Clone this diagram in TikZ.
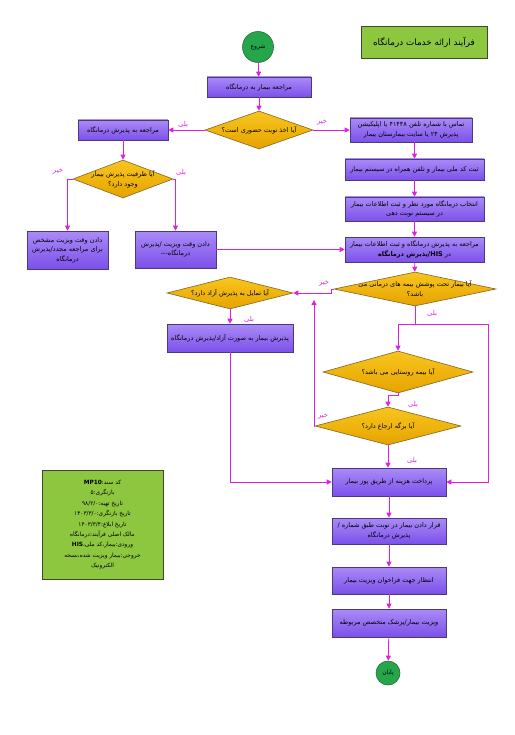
\documentclass[tikz,border=0pt]{standalone}
\usepackage{fontspec}
\usetikzlibrary{shapes.geometric,arrows.meta,calc}
\TeXXeTstate=1
\newfontfamily\fafont[Script=Arabic]{DejaVu Sans}
\newcommand{\fa}[1]{\beginR #1\endR}
\newcommand{\lt}[1]{\beginL #1\endL}
\definecolor{procA}{HTML}{A98BF7}
\definecolor{procB}{HTML}{7C50EA}
\definecolor{procline}{HTML}{4A3A78}
\definecolor{decA}{HTML}{F8C51E}
\definecolor{decB}{HTML}{E6A300}
\definecolor{decline}{HTML}{80652A}
\definecolor{termfill}{HTML}{25A64B}
\definecolor{termline}{HTML}{2E6A3A}
\definecolor{limefill}{HTML}{8DC63F}
\definecolor{limeline}{HTML}{3C4A2C}
\definecolor{mag}{HTML}{E31EE3}
\tikzset{
  proc/.style={rectangle, draw=procline, line width=0.6pt, top color=procA, bottom color=procB,
    inner sep=1pt, align=center, font=\fafont\fontsize{6.5}{9.5}\selectfont},
  dec/.style={diamond, draw=decline, line width=0.6pt, top color=decA, bottom color=decB, inner sep=0pt},
  dtext/.style={align=center, inner sep=0pt, font=\fafont\fontsize{6.5}{9.5}\selectfont},
  term/.style={circle, draw=termline, line width=0.6pt, fill=termfill, inner sep=0pt,
    font=\fafont\fontsize{6}{7}\selectfont},
  limebox/.style={rectangle, draw=limeline, line width=0.7pt, fill=limefill, align=center},
  conn/.style={draw=mag, line width=0.8pt, -{Triangle[length=5pt,width=5pt]}},
  lab/.style={text=mag, inner sep=0pt, font=\fafont\fontsize{6.8}{8}\selectfont},
}
\begin{document}
\begin{tikzpicture}[x=1pt,y=-1pt]
\useasboundingbox[fill=white] (0,0) rectangle (514,735);

% title and info
\node[limebox, minimum width=126pt, minimum height=32pt, font=\fafont\fontsize{8.8}{10}\selectfont] (title) at (424,42) {\fa{فرآیند ارائه خدمات درمانگاه}};
\node[limebox, minimum width=121pt, minimum height=109pt, font=\fafont\fontsize{5.8}{10.4}\selectfont] (info) at (102.5,524.5) {%
\fa{کد سند:\lt{\bfseries MP10}}\\
\fa{بازنگری:۵}\\
\fa{تاریخ تهیه:\lt{۹۸/۲/۰}}\\
\fa{تاریخ بازنگری:\lt{۱۴۰۳/۳/۰}}\\
\fa{تاریخ ابلاغ:\lt{۱۴۰۳/۳/۴}}\\
\fa{مالک اصلی فرآیند:درمانگاه}\\
\fa{ورودی:بیمار،کد ملی،\lt{\bfseries HIS}}\\
\fa{خروجی:بیمار ویزیت شده،نسخه}\\
\fa{الکترونیک}};

% terminals
\node[term, minimum size=31pt] (start) at (258,47) {\fa{شروع}};
\node[term, minimum size=24pt] (end) at (388,673) {\fa{پایان}};

% process boxes
\node[proc, minimum width=104pt, minimum height=20pt] (b1) at (259,87) {\fa{مراجعه بیمار به درمانگاه}};
\node[proc, minimum width=90pt, minimum height=20pt] (b2) at (123,130) {\fa{مراجعه به پذیرش درمانگاه}};
\node[proc, minimum width=122pt, minimum height=24pt] (b3) at (411,130) {\fa{تماس با شماره تلفن \lt{۴۱۴۴۸} یا اپلیکیشن}\\\fa{پذیرش \lt{۲۴} یا سایت بیمارستان بیمار}};
\node[proc, minimum width=139pt, minimum height=21pt] (b4) at (414.5,169.5) {\fa{ثبت کد ملی بیمار و تلفن همراه در سیستم بیمار}};
\node[proc, minimum width=139pt, minimum height=24pt] (b5) at (414.5,209) {\fa{انتخاب درمانگاه مورد نظر و ثبت اطلاعات بیمار}\\\fa{در سیستم نوبت دهی}};
\node[proc, minimum width=139pt, minimum height=25pt] (b6) at (414.5,249.5) {\fa{مراجعه به پذیرش درمانگاه و ثبت اطلاعات بیمار}\\\fa{در \lt{\bfseries HIS}/پذیرش درمانگاه}};
\node[proc, minimum width=81pt, minimum height=38pt] (lb) at (67.5,250) {\fa{دادن وقت ویزیت مشخص}\\\fa{برای مراجعه مجدد/پذیرش}\\\fa{درمانگاه}};
\node[proc, minimum width=81pt, minimum height=37pt] (mb) at (175.5,249.5) {\fa{دادن وقت ویزیت /پذیرش}\\\fa{درمانگاه\lt{---}}};
\node[proc, minimum width=126pt, minimum height=28pt] (b7) at (230,338) {\fa{پذیرش بیمار به صورت آزاد/پذیرش درمانگاه}};
\node[proc, minimum width=114pt, minimum height=28pt] (pay) at (389,482) {\fa{پرداخت هزینه از طریق پوز بیمار}};
\node[proc, minimum width=114pt, minimum height=26pt] (b8) at (389,531) {\fa{قرار دادن بیمار در نوبت طبق شماره /}\\\fa{پذیرش درمانگاه}};
\node[proc, minimum width=114pt, minimum height=27pt] (b9) at (389,580.5) {\fa{انتظار جهت فراخوان ویزیت بیمار}};
\node[proc, minimum width=114pt, minimum height=28pt] (b10) at (389,623) {\fa{ویزیت بیمار/پزشک متخصص مربوطه}};

% decisions
\node[dec, minimum width=108pt, minimum height=38pt] (d1) at (259,130) {};
\node[dtext] (d1t) at (d1) {\fa{آیا اخذ نوبت حضوری است؟}};
\node[dec, minimum width=100pt, minimum height=38pt] (d2) at (123,179) {};
\node[dtext] (d2t) at (d2) {\fa{آیا ظرفیت پذیرش بیمار}\\\fa{وجود دارد؟}};
\node[dec, minimum width=162pt, minimum height=34pt] (d3) at (415,289) {};
\node[dtext] (d3t) at (d3) {\fa{آیا بیمار تحت پوشش بیمه های درمانی می}\\\fa{باشد؟}};
\node[dec, minimum width=126pt, minimum height=32pt] (d4) at (230,293) {};
\node[dtext] (d4t) at (d4) {\fa{آیا تمایل به پذیرش آزاد دارد؟}};
\node[dec, minimum width=150pt, minimum height=42pt] (d5) at (398,372) {};
\node[dtext] (d5t) at (d5) {\fa{آیا بیمه روستایی می باشد؟}};
\node[dec, minimum width=146pt, minimum height=38pt] (d6) at (388,426) {};
\node[dtext] (d6t) at (d6) {\fa{آیا برگه ارجاع دارد؟}};

% helper coordinates
\coordinate (split) at (415,324);
\coordinate (rr) at (488,324);
\coordinate (up) at (314,300);

% connectors
\draw[conn] (start) -- (b1);
\draw[conn] (b1) -- (d1);
\draw[conn] (d1.west) -- (b2.east);
\draw[conn] (d1.east) -- (b3.west);
\draw[conn] (b2) -- (d2);
\draw[conn] (d2.west) -| (lb.north);
\draw[conn] (d2.east) -| (mb.north);
\draw[conn] (b3.south -| b4.north) -- (b4.north);
\draw[conn] (b4) -- (b5);
\draw[conn] (b5) -- (b6);
\draw[conn] (mb.east) -- (b6.west);
\draw[conn] (b6) -- (d3);
\draw[conn] (d3.west) -- ++(-2,0) |- (d4.east);
\draw[conn] (d4) -- (b7);
\draw[conn] (b7.south) |- (pay.west);
\draw[draw=mag, line width=0.8pt] (d3.south) -- (split);
\draw[conn] (split) -| (d5.north);
\draw[conn] (split) -- (rr) |- (pay.east);
\draw[conn] (d5.south) -- ++(0,2) -| (d6.north);
\draw[conn] (d6.west) -| (up);
\draw[conn] (d6.south) -- (pay.north -| d6.south);
\draw[conn] (pay) -- (b8);
\draw[conn] (b8) -- (b9);
\draw[conn] (b9) -- (b10);
\draw[conn] (b10) -- (end);

% branch labels
\node[lab] (l1) at (183,124) {\fa{بلی}};
\node[lab] (l2) at (322,123) {\fa{خیر}};
\node[lab] (l3) at (58,172) {\fa{خیر}};
\node[lab] (l4) at (181,172) {\fa{بلی}};
\node[lab] (l5) at (324,284) {\fa{خیر}};
\node[lab] (l6) at (249,319) {\fa{بلی}};
\node[lab] (l7) at (432,313) {\fa{بلی}};
\node[lab] (l8) at (413,404) {\fa{بلی}};
\node[lab] (l9) at (323,417) {\fa{خیر}};
\node[lab] (l10) at (412,460) {\fa{بلی}};
\end{tikzpicture}
\end{document}
